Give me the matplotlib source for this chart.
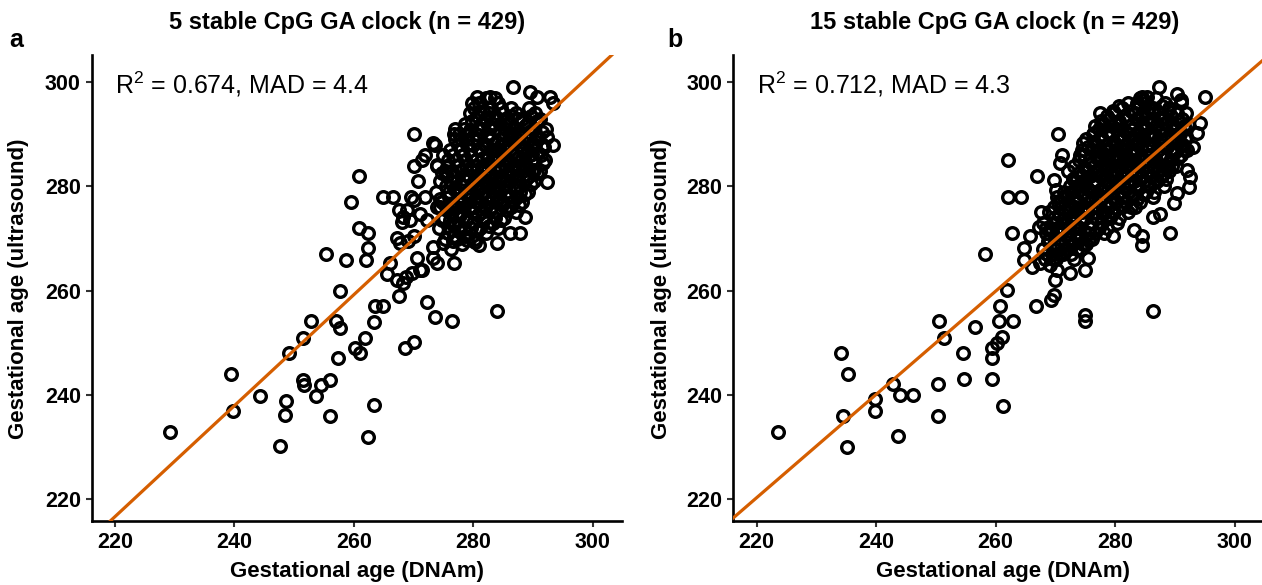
import numpy as np
import matplotlib
matplotlib.use('Agg')
import matplotlib.pyplot as plt

# Fuentes tipo Arial
plt.rcParams['font.family'] = ['Liberation Sans', 'DejaVu Sans']
plt.rcParams['mathtext.fontset'] = 'custom'
plt.rcParams['mathtext.rm'] = 'Liberation Sans'
plt.rcParams['mathtext.it'] = 'Liberation Sans:italic'
plt.rcParams['mathtext.bf'] = 'Liberation Sans:bold'

# ---- datos ----
titles = ['5 stable CpG GA clock (n = 429)', '15 stable CpG GA clock (n = 429)']
panel_tags = ['a', 'b']
r2_values = [0.674, 0.712]
mad_values = [4.4, 4.3]
fit_slopes = [1.064, 0.99]
fit_intercepts = [-17.4, 2.5]
ticks = [220, 240, 260, 280, 300]

# panel a: (DNAm, ultrasound)
clock5_sparse = [
    (229.2, 233.0), (239.5, 244.0), (239.8, 237.0), (244.2, 239.9), (248.6, 238.9),
    (248.5, 236.1), (247.6, 230.3), (249.2, 248.0), (251.4, 251.0), (252.9, 254.1),
    (251.5, 242.9), (251.7, 242.0), (254.5, 242.0), (253.6, 239.9), (256.0, 242.9),
    (256.0, 235.9), (255.4, 267.0), (262.4, 232.0), (263.4, 238.0),
    (270.1, 290.0), (273.6, 287.9), (271.9, 286.0), (271.4, 285.1), (270.1, 284.0),
    (273.9, 284.1), (270.8, 281.0), (260.9, 282.0), (259.5, 277.1), (264.8, 278.0),
    (266.5, 278.0), (269.5, 277.9), (267.5, 275.5), (268.3, 274.2), (268.0, 273.2),
    (269.4, 273.6), (271.1, 274.8), (272.2, 273.6), (260.9, 272.0), (262.3, 271.0),
    (262.4, 268.1), (258.6, 265.9), (262.0, 265.9), (267.2, 270.1), (267.7, 269.1),
    (266.1, 265.3), (265.5, 263.2), (267.2, 262.1), (268.8, 262.7), (269.7, 263.4),
    (270.5, 266.2), (271.4, 264.0), (267.5, 259.0), (272.2, 257.9), (273.6, 255.0),
    (257.7, 260.0), (263.6, 257.0), (264.8, 257.1), (263.3, 254.0), (257.0, 254.1),
    (257.6, 252.8), (261.9, 250.9), (260.2, 249.0), (261.0, 248.0), (257.3, 247.1),
    (268.6, 249.0), (270.0, 250.1), (283.9, 256.2), (276.4, 254.1), (292.3, 280.9),
    (293.4, 287.9), (276.7, 290.0), (286.7, 299.1), (280.6, 297.2), (282.8, 297.2),
    (289.5, 298.1), (290.6, 297.2), (292.9, 297.2), (293.4, 295.9), (273.3, 288.3),
    (275.6, 283.8), (279.5, 290.8), (287.8, 271.0), (286.2, 271.0), (283.9, 269.1),
    (280.9, 268.8), (276.7, 265.3), (273.3, 266.2), (273.9, 265.3), (271.1, 264.0),
    (268.3, 261.4), (290.1, 283.1), (289.8, 286.3), (288.7, 274.2), (292.3, 289.5),
    (280.3, 269.4), (278.9, 269.7), (276.7, 270.4), (275.0, 269.1), (273.3, 268.4),
    (270.0, 270.4), (269.0, 269.5), (268.9, 275.5), (270.0, 277.4), (271.9, 278.0),
    (273.9, 276.1), (275.6, 275.5), (276.1, 273.6),
]
clock5_core = [
    (274.2, 272), (274.5, 276), (273.8, 279), (274.4, 281), (274.0, 284),
    (275.3, 270), (275.1, 274), (274.8, 277), (275.4, 280), (275.2, 283), (274.9, 286),
    (276.2, 268), (275.8, 271), (276.4, 275), (276.0, 278), (276.3, 281), (275.7, 284), (276.1, 287),
    (277.3, 270), (276.9, 273), (277.2, 276), (277.5, 279), (276.8, 282), (277.1, 285), (277.4, 288), (276.9, 291),
    (278.1, 269), (278.4, 272), (277.8, 275), (278.2, 277), (278.5, 280), (277.9, 283), (278.3, 286), (278.0, 289), (278.6, 292),
    (279.2, 271), (278.9, 274), (279.4, 276), (279.0, 279), (279.3, 282), (278.8, 284), (279.5, 287), (279.1, 290), (279.4, 294),
    (280.3, 270), (279.9, 273), (280.2, 276), (280.5, 278), (280.1, 281), (279.8, 283), (280.4, 285), (280.0, 288), (280.6, 291), (280.2, 295),
    (281.1, 272), (281.4, 275), (280.9, 277), (281.3, 280), (281.0, 282), (281.5, 284), (281.2, 287), (280.8, 289), (281.3, 292), (281.0, 296),
    (282.2, 271), (281.9, 274), (282.4, 277), (282.0, 279), (282.3, 281), (281.8, 283), (282.5, 286), (282.1, 288), (282.4, 290), (281.9, 293), (282.2, 297),
    (283.3, 273), (282.9, 276), (283.1, 278), (283.5, 280), (282.8, 282), (283.2, 285), (283.4, 287), (283.0, 289), (283.3, 292), (282.9, 295),
    (284.1, 272), (283.8, 275), (284.3, 278), (284.0, 280), (284.4, 283), (283.9, 285), (284.2, 287), (284.5, 290), (283.8, 293), (284.1, 296),
    (285.2, 274), (284.9, 277), (285.4, 279), (285.0, 281), (285.3, 284), (284.8, 286), (285.1, 288), (285.5, 291), (285.0, 294),
    (286.3, 276), (285.9, 278), (286.1, 281), (286.5, 283), (285.8, 285), (286.2, 287), (286.4, 290), (286.0, 292), (286.3, 295),
    (287.1, 275), (287.4, 278), (286.9, 280), (287.2, 282), (287.5, 284), (287.0, 286), (287.3, 289), (286.8, 291), (287.2, 294),
    (288.2, 277), (287.9, 280), (288.4, 283), (288.0, 285), (288.3, 287), (287.8, 290), (288.1, 293),
    (289.1, 279), (289.4, 282), (288.9, 284), (289.2, 287), (289.5, 289), (289.0, 292), (289.3, 295),
    (290.2, 281), (289.9, 285), (290.4, 288), (290.0, 291), (290.3, 294),
    (291.1, 283), (291.4, 286), (290.9, 289), (291.2, 293),
    (292.0, 285), (291.7, 288), (292.2, 291),
]
clock5_fill = [
    (274.7, 273.5), (274.5, 277.5), (274.8, 282.5),
    (275.7, 272.5), (275.5, 276.0), (275.9, 279.0), (275.6, 282.0), (275.8, 285.0),
    (276.6, 269.5), (276.8, 272.5), (276.5, 276.5), (276.7, 279.5), (276.4, 283.0), (276.6, 286.0), (276.9, 289.0),
    (277.6, 271.5), (277.8, 274.5), (277.4, 277.5), (277.7, 280.5), (277.5, 284.0), (277.9, 287.0), (277.6, 290.0),
    (278.6, 270.5), (278.8, 273.5), (278.5, 276.0), (278.7, 278.5), (278.4, 281.5), (278.6, 285.0), (278.9, 288.0), (278.5, 291.0),
    (279.6, 272.0), (279.8, 275.0), (279.5, 277.5), (279.7, 280.5), (279.4, 283.5), (279.6, 286.0), (279.9, 289.0), (279.7, 292.5), (279.8, 296.0),
    (280.6, 271.5), (280.8, 274.5), (280.5, 277.0), (280.7, 279.5), (280.4, 282.0), (280.6, 284.0), (280.9, 287.0), (280.5, 290.0), (280.7, 293.5),
    (281.6, 273.5), (281.8, 276.0), (281.5, 278.5), (281.7, 281.0), (281.4, 283.5), (281.6, 285.5), (281.9, 288.0), (281.5, 291.0), (281.7, 294.5),
    (282.6, 272.5), (282.8, 275.5), (282.5, 278.0), (282.7, 280.0), (282.4, 282.0), (282.6, 284.5), (282.9, 287.0), (282.5, 289.5), (282.7, 291.5), (282.6, 294.0),
    (283.6, 274.0), (283.8, 277.0), (283.5, 279.0), (283.7, 281.5), (283.4, 283.5), (283.6, 286.0), (283.9, 288.5), (283.5, 291.0), (283.7, 293.5), (283.6, 297.0),
    (284.6, 273.5), (284.8, 276.5), (284.5, 279.0), (284.7, 281.5), (284.4, 284.0), (284.6, 286.5), (284.9, 289.0), (284.5, 292.0), (284.7, 295.0),
    (285.6, 275.5), (285.8, 278.0), (285.5, 280.0), (285.7, 282.5), (285.4, 285.0), (285.6, 287.5), (285.9, 290.0), (285.5, 292.5),
    (286.6, 277.0), (286.8, 279.5), (286.5, 282.0), (286.7, 284.0), (286.4, 286.5), (286.6, 288.5), (286.9, 291.0), (286.5, 293.5),
    (287.6, 276.5), (287.8, 279.0), (287.5, 281.5), (287.7, 283.5), (287.4, 285.5), (287.6, 288.0), (287.9, 290.5), (287.5, 293.0),
    (288.6, 278.5), (288.8, 281.5), (288.5, 284.0), (288.7, 286.0), (288.4, 288.5), (288.6, 291.5),
    (289.6, 280.5), (289.8, 283.0), (289.5, 286.0), (289.7, 288.0), (289.4, 290.5), (289.6, 293.5),
    (290.6, 282.5), (290.8, 286.5), (290.5, 289.5), (290.7, 292.5),
    (291.6, 284.5), (291.8, 287.5), (291.5, 290.5),
]

# panel b
clock15_sparse = [
    (223.5, 233.0), (234.1, 248.0), (235.3, 244.0), (234.4, 236.0), (235.1, 230.0),
    (239.8, 239.2), (239.8, 237.0), (242.8, 242.1), (244.0, 240.0), (246.2, 240.0),
    (243.6, 232.1), (250.3, 242.1), (250.3, 236.0), (250.6, 254.1), (251.3, 251.0),
    (254.6, 248.0), (254.8, 243.0), (256.6, 253.0), (258.2, 267.0), (259.4, 249.0),
    (259.4, 247.1), (259.4, 243.0), (261.3, 237.9),
    (287.4, 299.1), (295.1, 297.1), (277.5, 294.0), (270.4, 290.0), (262.0, 285.1),
    (267.0, 282.0), (262.0, 277.9), (264.3, 277.9), (262.7, 271.0), (267.6, 275.0),
    (289.2, 271.0), (286.4, 256.1), (274.9, 255.4), (275.0, 254.1), (266.8, 257.0),
    (269.2, 258.2), (269.7, 259.2), (261.9, 260.2), (260.8, 257.0), (260.6, 254.1),
    (263.0, 254.1), (261.0, 251.2), (260.2, 249.9),
    (292.0, 283.1), (292.6, 281.9), (292.4, 279.9), (293.1, 287.6), (293.7, 290.2),
    (294.3, 292.1), (290.4, 297.8), (291.0, 296.6), (284.5, 297.2), (285.3, 297.2),
    (276.4, 290.2), (274.7, 288.3), (277.0, 287.0), (274.2, 286.0), (271.1, 286.0),
    (270.8, 284.4), (269.7, 281.2), (270.2, 279.3), (267.2, 272.3), (265.8, 270.4),
    (264.7, 268.1), (264.7, 265.9), (266.1, 264.6), (267.5, 265.3), (270.3, 264.0),
    (270.0, 262.1), (272.5, 263.4), (275.0, 264.0), (275.5, 266.2), (279.7, 270.4),
    (283.1, 271.6), (284.5, 270.4), (284.5, 268.8), (286.4, 274.2), (287.5, 274.8),
    (289.8, 276.8), (290.4, 278.7),
]
clock15_core = [
    (268.2, 266), (267.9, 268), (268.4, 271), (268.0, 273),
    (269.1, 265), (269.4, 267), (268.9, 270), (269.3, 272), (269.0, 275),
    (270.2, 266), (269.9, 268), (270.4, 271), (270.1, 273), (269.8, 276), (270.3, 278),
    (271.3, 267), (270.9, 269), (271.2, 272), (271.5, 274), (271.0, 277), (271.4, 279),
    (272.1, 268), (272.4, 270), (271.8, 273), (272.3, 275), (272.0, 278), (272.5, 280), (272.2, 283),
    (273.2, 266), (272.9, 269), (273.4, 271), (273.0, 274), (273.3, 276), (272.8, 279), (273.5, 281), (273.1, 284),
    (274.3, 268), (273.9, 270), (274.1, 272), (274.5, 275), (273.8, 277), (274.2, 280), (274.4, 282), (274.0, 285),
    (275.1, 269), (275.4, 271), (274.9, 274), (275.2, 276), (275.5, 278), (275.0, 281), (275.3, 283), (274.8, 286), (275.2, 289),
    (276.2, 270), (275.9, 273), (276.4, 275), (276.0, 277), (276.3, 279), (275.8, 282), (276.5, 284), (276.1, 287), (276.3, 290),
    (277.3, 272), (276.9, 274), (277.1, 276), (277.5, 278), (276.8, 281), (277.2, 283), (277.4, 285), (277.0, 288), (277.3, 291),
    (278.1, 271), (277.8, 273), (278.3, 275), (278.0, 278), (278.4, 280), (277.9, 282), (278.2, 284), (278.5, 286), (277.8, 289), (278.1, 292),
    (279.2, 274), (278.9, 276), (279.4, 279), (279.0, 281), (279.3, 283), (278.8, 285), (279.1, 287), (279.5, 290), (279.0, 293),
    (280.3, 273), (279.9, 275), (280.1, 277), (280.5, 280), (279.8, 282), (280.2, 284), (280.4, 286), (280.0, 288), (280.3, 291), (279.9, 294),
    (281.1, 276), (281.4, 278), (280.9, 281), (281.2, 283), (281.5, 285), (281.0, 287), (281.3, 289), (280.8, 292), (281.2, 295),
    (282.2, 275), (281.9, 277), (282.4, 279), (282.0, 282), (282.3, 284), (281.8, 286), (282.1, 288), (282.5, 290), (281.9, 293), (282.2, 296),
    (283.3, 276), (282.9, 278), (283.1, 281), (283.5, 283), (282.8, 285), (283.2, 287), (283.4, 289), (283.0, 291), (283.3, 294),
    (284.1, 277), (283.8, 280), (284.3, 282), (284.0, 284), (284.4, 286), (283.9, 288), (284.2, 290), (284.5, 292), (283.8, 295), (284.1, 297),
    (285.2, 279), (284.9, 281), (285.4, 283), (285.0, 285), (285.3, 287), (284.8, 289), (285.1, 291), (285.5, 294), (285.0, 296),
    (286.3, 278), (285.9, 280), (286.1, 282), (286.5, 284), (285.8, 286), (286.2, 288), (286.4, 290), (286.0, 293), (286.3, 295),
    (287.1, 281), (287.4, 283), (286.9, 285), (287.2, 287), (287.5, 289), (287.0, 292), (287.3, 294), (286.8, 297),
    (288.2, 280), (287.9, 282), (288.4, 284), (288.0, 286), (288.3, 289), (287.8, 291), (288.1, 293), (288.4, 296),
    (289.1, 283), (289.4, 285), (288.9, 288), (289.2, 290), (289.5, 292), (289.0, 295),
    (290.2, 284), (289.9, 287), (290.4, 289), (290.0, 291), (290.3, 294),
    (291.1, 286), (291.4, 288), (290.9, 290), (291.2, 293), (291.0, 296),
    (292.0, 287), (291.7, 289), (292.2, 292), (291.9, 294),
]
clock15_fill = [
    (268.6, 267.0), (268.8, 269.5), (268.5, 272.0),
    (269.6, 266.0), (269.8, 269.0), (269.5, 271.5), (269.7, 274.0),
    (270.6, 267.0), (270.8, 270.0), (270.5, 272.0), (270.7, 274.5), (270.4, 277.0),
    (271.6, 268.0), (271.8, 270.5), (271.5, 273.0), (271.7, 275.5), (271.4, 278.0),
    (272.6, 267.0), (272.8, 269.0), (272.5, 271.5), (272.7, 274.0), (272.4, 276.5), (272.6, 279.0), (272.9, 281.5),
    (273.6, 268.0), (273.8, 270.0), (273.5, 272.5), (273.7, 275.0), (273.4, 277.5), (273.6, 280.0), (273.9, 282.5),
    (274.6, 269.0), (274.8, 271.5), (274.5, 273.5), (274.7, 276.0), (274.4, 278.5), (274.6, 281.0), (274.9, 283.5), (274.5, 287.0),
    (275.6, 270.0), (275.8, 272.0), (275.5, 275.0), (275.7, 277.0), (275.4, 279.5), (275.6, 282.0), (275.9, 284.5), (275.5, 287.5),
    (276.6, 271.0), (276.8, 274.0), (276.5, 276.0), (276.7, 278.0), (276.4, 280.5), (276.6, 283.0), (276.9, 285.5), (276.5, 288.5), (276.7, 291.5),
    (277.6, 273.0), (277.8, 275.0), (277.5, 277.0), (277.7, 279.5), (277.4, 282.0), (277.6, 284.0), (277.9, 286.5), (277.5, 289.5), (277.7, 292.5),
    (278.6, 272.0), (278.8, 274.5), (278.5, 277.0), (278.7, 279.0), (278.4, 281.0), (278.6, 283.5), (278.9, 285.5), (278.5, 288.0), (278.7, 290.5), (278.6, 293.5),
    (279.6, 275.0), (279.8, 277.5), (279.5, 280.0), (279.7, 282.0), (279.4, 284.0), (279.6, 286.0), (279.9, 288.5), (279.5, 291.5), (279.7, 294.5),
    (280.6, 274.0), (280.8, 276.5), (280.5, 278.5), (280.7, 281.0), (280.4, 283.0), (280.6, 285.0), (280.9, 287.5), (280.5, 289.5), (280.7, 292.5), (280.6, 295.5),
    (281.6, 277.0), (281.8, 279.5), (281.5, 282.0), (281.7, 284.0), (281.4, 286.0), (281.6, 288.0), (281.9, 290.5), (281.5, 293.5),
    (282.6, 276.0), (282.8, 278.5), (282.5, 280.5), (282.7, 283.0), (282.4, 285.0), (282.6, 287.0), (282.9, 289.0), (282.5, 291.5), (282.7, 294.5),
    (283.6, 277.5), (283.8, 279.5), (283.5, 282.0), (283.7, 284.5), (283.4, 286.5), (283.6, 288.5), (283.9, 290.5), (283.5, 293.0), (283.7, 296.0),
    (284.6, 278.5), (284.8, 281.0), (284.5, 283.0), (284.7, 285.0), (284.4, 287.5), (284.6, 289.5), (284.9, 291.5), (284.5, 293.5), (284.7, 296.5),
    (285.6, 280.0), (285.8, 282.0), (285.5, 284.0), (285.7, 286.0), (285.4, 288.0), (285.6, 290.0), (285.9, 292.5), (285.5, 295.0),
    (286.6, 279.0), (286.8, 281.5), (286.5, 283.5), (286.7, 285.5), (286.4, 287.5), (286.6, 289.5), (286.9, 291.5), (286.5, 294.0),
    (287.6, 282.0), (287.8, 284.0), (287.5, 286.0), (287.7, 288.0), (287.4, 290.5), (287.6, 293.0), (287.9, 295.5),
    (288.6, 281.5), (288.8, 283.5), (288.5, 285.5), (288.7, 287.5), (288.4, 290.0), (288.6, 292.0), (288.9, 294.5),
    (289.6, 284.0), (289.8, 286.5), (289.5, 289.0), (289.7, 291.0), (289.4, 293.5),
    (290.6, 285.5), (290.8, 288.0), (290.5, 290.0), (290.7, 292.5),
    (291.6, 287.0), (291.8, 289.5), (291.5, 291.5),
]

panels = [clock5_sparse + clock5_core + clock5_fill,
          clock15_sparse + clock15_core + clock15_fill]

# ---- figura ----
W, H = 1262, 585
fig = plt.figure(figsize=(W / 100, H / 100), dpi=100)
fig.patch.set_facecolor('white')

axes_px = [(91.7, 622.0), (733.3, 1262.0)]  # izquierda / derecha en pixeles
y_top, y_bot = 55.0, 520.7
xlims = [(216.1, 304.9), (216.1, 304.6)]
title_x = [347, 995]
tag_x = [9, 667]
ylab_x = [19, 661]
xlab_x = [357, 1003]

for i, pts in enumerate(panels):
    x0, x1 = axes_px[i]
    ax = fig.add_axes([x0 / W, 1 - y_bot / H, (x1 - x0) / W, (y_bot - y_top) / H])
    arr = np.array(pts, dtype=float)
    ax.plot(arr[:, 0], arr[:, 1], linestyle='none', marker='o', markersize=8.4,
            markerfacecolor='none', markeredgecolor='black', markeredgewidth=2.4,
            zorder=2, clip_on=False)
    ax.axline((0, fit_intercepts[i]), slope=fit_slopes[i], color='#D55E00',
              linewidth=2.3, zorder=3)

    ax.set_xlim(*xlims[i])
    ax.set_ylim(215.9, 305.2)
    ax.set_xticks(ticks)
    ax.set_yticks(ticks)
    for s in ['top', 'right']:
        ax.spines[s].set_visible(False)
    for s in ['left', 'bottom']:
        ax.spines[s].set_linewidth(1.9)
        ax.spines[s].set_color('black')
    ax.tick_params(axis='both', direction='out', length=4.2, width=1.5,
                   color='#333333', labelsize=15.5, labelcolor='black')
    ax.tick_params(axis='x', pad=4.0)
    ax.tick_params(axis='y', pad=3.6)
    for lab in ax.get_xticklabels() + ax.get_yticklabels():
        lab.set_fontweight('bold')

    ax.text(220, 299.6, r'R$^{2}$' + f' = {r2_values[i]:.3f}, MAD = {mad_values[i]}',
            fontsize=18, ha='left', va='center')

    fig.text(title_x[i] / W, 1 - 22 / H, titles[i], fontsize=17, fontweight='bold',
             ha='center', va='center')
    fig.text(tag_x[i] / W, 1 - 40 / H, panel_tags[i], fontsize=18, fontweight='bold',
             ha='left', va='center')
    fig.text(ylab_x[i] / W, 1 - 289 / H, 'Gestational age (ultrasound)', fontsize=16,
             fontweight='bold', rotation=90, ha='center', va='center')
    fig.text(xlab_x[i] / W, 1 - 572 / H, 'Gestational age (DNAm)', fontsize=16,
             fontweight='bold', ha='center', va='center')

fig.savefig('out.png', dpi=100)
